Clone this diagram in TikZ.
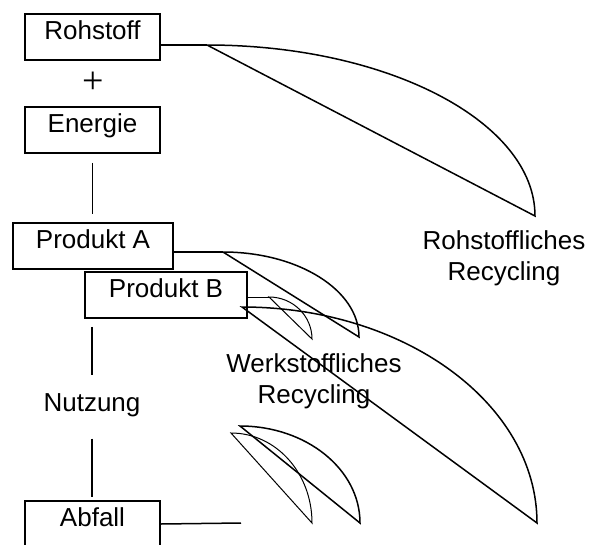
\documentclass[tikz,border=0pt]{standalone}
\usepackage{fontspec}
\setmainfont{Liberation Sans}
\newfontfamily\plusfont{Liberation Serif}
\begin{document}
\begin{tikzpicture}[x=1pt,y=-1pt,
  every node/.style={font=\fontsize{26}{31}\selectfont},
  box/.style={draw,line width=1.5pt,inner sep=0pt,minimum height=46pt,
    text height=19pt,text depth=14pt},
  lbl/.style={inner sep=0pt,align=center},
  ln/.style={line width=1.5pt},
  thin/.style={line width=1pt}]
\useasboundingbox (0,0) rectangle (592,544);
% boxes
\node[box,minimum width=135pt] (roh) at (92.5,37) {Rohstoff};
\node[inner sep=0pt,font=\plusfont\fontsize{38}{40}\selectfont] (plus) at (93,83) {+};
\node[box,minimum width=135pt] (ene) at (92.5,130) {Energie};
\node[box,minimum width=160pt] (pa) at (93,246) {Produkt A};
\node[box,minimum width=162pt] (pb) at (166,295) {Produkt B};
\node[inner sep=0pt,text height=19pt,text depth=5.5pt,anchor=base] (nutz) at (92,411) {Nutzung};
\node[box,minimum width=135pt] (abf) at (92.5,524) {Abfall};
% labels
\node[lbl,anchor=north] (rr) at (504,230) {Rohstoffliches\\Recycling};
\node[lbl,anchor=north] (wr) at (314,353) {Werkstoffliches\\Recycling};
% vertical connectors
\draw[line width=1.2pt,shorten <=9pt,shorten >=8pt] (ene.south) -- (pa.north -| ene.south);
\draw[line width=1.2pt,shorten <=8pt,shorten >=17pt] (pb.south -| nutz.north) -- (nutz.north);
\draw[line width=1.2pt,shorten <=22pt,shorten >=3pt] (nutz.south) -- (abf.north -| nutz.south);
% recycling loops
\coordinate (r1) at (207,45);
\draw[ln] (roh.east |- r1) -- (r1);
\draw[ln] (r1) .. controls (388,45) and (535,122) .. (535,216) -- cycle;
\coordinate (a1) at (223,252);
\draw[ln] (pa.east |- a1) -- (a1);
\draw[ln] (a1) .. controls (298,252) and (359,290) .. (359,337) -- cycle;
\coordinate (b1) at (269,297);
\draw[thin] (pb.east |- b1) -- (b1);
\draw[thin] (b1) .. controls (293,297) and (312,316) .. (312,339) -- cycle;
\coordinate (b2) at (242,307);
\draw[ln] (b2) .. controls (405,307) and (537,404) .. (537,523) -- cycle;
\coordinate (c1) at (240,426);
\draw[ln] (c1) .. controls (306,426) and (360,469) .. (360,523) -- cycle;
\coordinate (c2) at (231,433);
\draw[thin] (c2) .. controls (276,433) and (312,473) .. (312,523) -- cycle;
\coordinate (d1) at (241,523);
\draw[ln] (abf.east) -- (d1);
\end{tikzpicture}
\end{document}
